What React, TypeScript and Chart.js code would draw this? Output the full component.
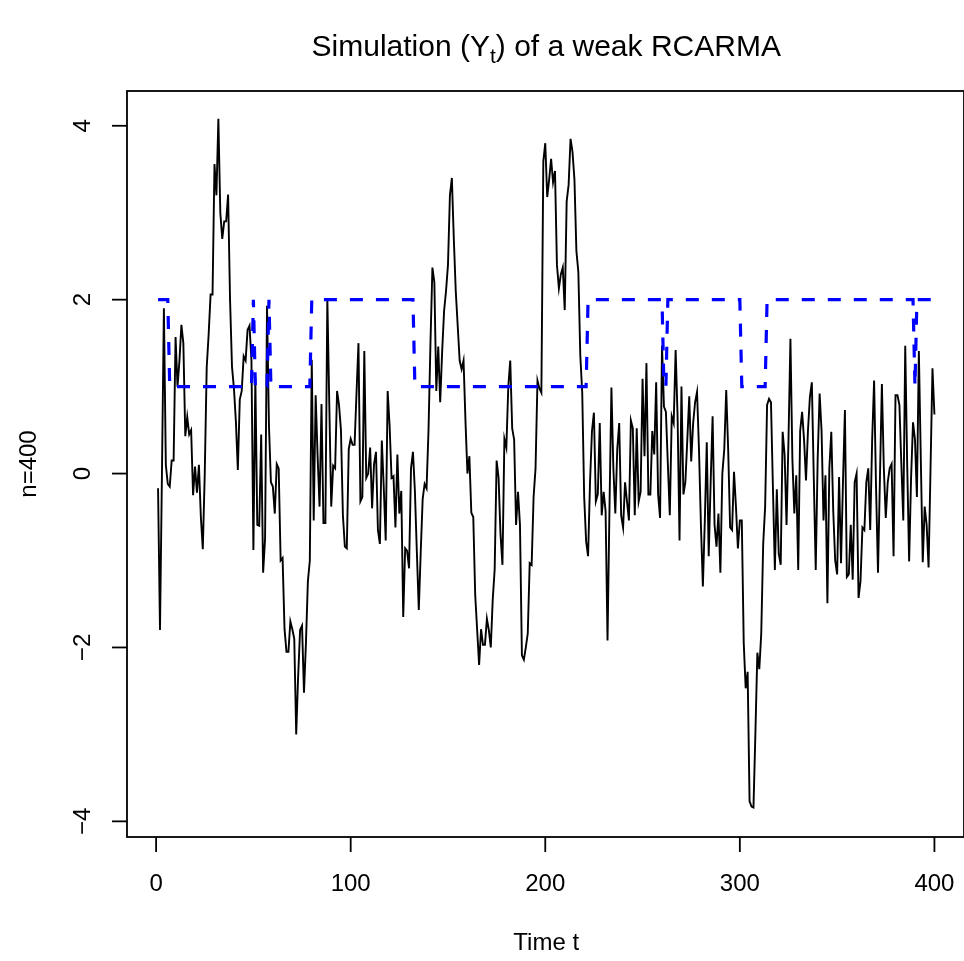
import React, { useEffect, useRef } from "react";
import { Chart, registerables } from "chart.js";

Chart.register(...registerables);

// Simulated series Y_t, t = 1..400
const seriesY: number[] = [
  -0.17, -1.8, 0.0, 1.9, 0.1, -0.12, -0.15, 0.15, 0.15, 1.57,
  1.0, 1.3, 1.71, 1.5, 0.43, 0.65, 0.45, 0.5, -0.25, 0.08,
  -0.22, 0.1, -0.5, -0.87, 0.0, 1.22, 1.6, 2.06, 2.06, 3.56,
  3.2, 4.08, 3.0, 2.7, 2.9, 2.9, 3.21, 2.0, 1.23, 0.98,
  0.6, 0.04, 0.85, 0.95, 1.35, 1.3, 1.65, 1.7, 1.3, -0.88,
  1.1, -0.59, -0.6, 0.45, -1.14, -0.75, 1.93, 0.55, -0.1, -0.15,
  -0.46, 0.11, 0.06, -1.0, -0.97, -1.79, -2.05, -2.05, -1.7, -1.79,
  -1.9, -3.0, -2.33, -1.8, -1.75, -2.52, -1.95, -1.24, -1.0, 1.31,
  -0.54, 0.9, 0.2, -0.38, 0.8, -0.57, -0.57, 2.02, 0.8, -0.38,
  0.09, 0.06, 0.95, 0.79, 0.5, -0.48, -0.84, -0.86, 0.28, 0.4,
  0.33, 0.33, 0.93, 1.5, -0.32, -0.27, 1.41, -0.05, 0.0, 0.3,
  -0.4, 0.11, 0.25, -0.65, -0.81, 0.38, -0.16, -0.77, 0.95, 0.55,
  -0.05, -0.03, -0.62, 0.22, -0.46, -0.2, -1.65, -0.86, -0.89, -1.09,
  0.06, 0.25, -0.2, -0.9, -1.57, -0.9, -0.29, -0.12, -0.17, 0.5,
  1.5, 2.37, 2.2, 0.95, 1.46, 0.82, 1.4, 1.87, 2.1, 2.4,
  3.2, 3.4, 2.7, 2.1, 1.7, 1.3, 1.2, 1.3, 0.6, 0.0,
  0.2, -0.45, -0.5, -1.4, -1.8, -2.2, -1.79, -1.97, -1.97, -1.67,
  -1.8, -2.0, -1.45, -1.1, 0.15, -0.05, -0.7, -1.05, 0.4, 0.3,
  1.0, 1.3, 0.52, 0.39, -0.59, -0.21, -0.59, -2.09, -2.14, -2.0,
  -1.84, -1.03, -1.05, -0.27, 0.06, 1.07, 0.98, 0.93, 3.59, 3.8,
  3.18, 3.38, 3.62, 3.35, 3.48, 2.4, 2.13, 2.29, 2.37, 1.88,
  3.13, 3.32, 3.85, 3.7, 3.38, 2.56, 2.32, 1.36, 0.93, -0.27,
  -0.78, -0.95, -0.1, 0.49, 0.7, -0.32, -0.24, 0.58, -0.48, -0.21,
  -0.43, -1.92, -0.4, 0.99, 0.06, -0.46, 0.28, 0.58, -0.48, -0.62,
  -0.1, -0.32, -0.54, 0.61, 0.52, -0.48, 0.52, -0.32, -0.21, 1.09,
  0.2, 1.27, -0.24, -0.24, 0.49, 0.22, 1.05, -0.24, -0.51, 1.47,
  0.77, 0.71, 0.11, -0.48, 0.66, 0.58, 1.42, 0.66, -0.77, 1.0,
  -0.24, -0.1, 0.39, 0.89, 0.14, 0.58, 0.82, 0.94, 0.28, -0.59,
  -1.3, -0.54, 0.36, -0.95, -0.1, 0.66, -0.59, -0.84, -0.46, -1.14,
  0.0, 0.28, 0.96, 0.28, -0.62, -0.65, 0.02, -0.38, -0.86, -0.54,
  -0.54, -1.95, -2.47, -2.28, -3.77, -3.83, -3.84, -2.98, -2.06, -2.25,
  -1.84, -0.81, -0.38, 0.79, 0.86, 0.82, -0.16, -1.11, -0.18, -0.92,
  -1.05, 0.48, 0.22, -0.59, 0.39, 1.55, 0.17, -0.46, -0.02, -1.11,
  0.49, 0.71, 0.39, -0.08, 0.49, 0.88, 1.05, -0.05, -1.11, 0.17,
  0.92, 0.49, -0.54, -0.02, -1.49, 0.06, 0.48, -0.43, -1.0, -1.16,
  -0.04, -1.03, -0.1, 0.73, -1.19, -1.16, -0.59, -1.22, -0.1, 0.0,
  -1.43, -1.24, -0.62, -0.65, -0.1, 0.06, -0.65, 0.39, 1.07, -0.16,
  -1.14, -0.05, 1.03, 0.06, -0.51, -0.1, 0.06, 0.11, -0.95, 0.9,
  0.9, 0.79, 0.11, -0.54, 1.47, 0.11, -1.01, -0.05, 0.59, 0.39,
  -0.27, 1.41, 0.17, -1.02, -0.38, -0.59, -1.08, 0.06, 1.21, 0.68,
];

// Regime (Markov state) for t = 1..400
const regime: number[] = [
  2, 2, 2, 2, 2, 2, 1, 1, 1, 1,
  1, 1, 1, 1, 1, 1, 1, 1, 1, 1,
  1, 1, 1, 1, 1, 1, 1, 1, 1, 1,
  1, 1, 1, 1, 1, 1, 1, 1, 1, 1,
  1, 1, 1, 1, 1, 1, 1, 1, 1, 2,
  1, 1, 1, 1, 1, 1, 1, 2, 1, 1,
  1, 1, 1, 1, 1, 1, 1, 1, 1, 1,
  1, 1, 1, 1, 1, 1, 1, 1, 1, 2,
  2, 2, 2, 2, 2, 2, 2, 2, 2, 2,
  2, 2, 2, 2, 2, 2, 2, 2, 2, 2,
  2, 2, 2, 2, 2, 2, 2, 2, 2, 2,
  2, 2, 2, 2, 2, 2, 2, 2, 2, 2,
  2, 2, 2, 2, 2, 2, 2, 2, 2, 2,
  2, 2, 1, 1, 1, 1, 1, 1, 1, 1,
  1, 1, 1, 1, 1, 1, 1, 1, 1, 1,
  1, 1, 1, 1, 1, 1, 1, 1, 1, 1,
  1, 1, 1, 1, 1, 1, 1, 1, 1, 1,
  1, 1, 1, 1, 1, 1, 1, 1, 1, 1,
  1, 1, 1, 1, 1, 1, 1, 1, 1, 1,
  1, 1, 1, 1, 1, 1, 1, 1, 1, 1,
  1, 1, 1, 1, 1, 1, 1, 1, 1, 1,
  1, 1, 1, 1, 1, 1, 1, 1, 1, 1,
  1, 2, 2, 2, 2, 2, 2, 2, 2, 2,
  2, 2, 2, 2, 2, 2, 2, 2, 2, 2,
  2, 2, 2, 2, 2, 2, 2, 2, 2, 2,
  2, 2, 2, 2, 2, 2, 2, 2, 2, 2,
  1, 1, 2, 2, 2, 2, 2, 2, 2, 2,
  2, 2, 2, 2, 2, 2, 2, 2, 2, 2,
  2, 2, 2, 2, 2, 2, 2, 2, 2, 2,
  2, 2, 2, 2, 2, 2, 2, 2, 2, 2,
  1, 1, 1, 1, 1, 1, 1, 1, 1, 1,
  1, 1, 1, 2, 2, 2, 2, 2, 2, 2,
  2, 2, 2, 2, 2, 2, 2, 2, 2, 2,
  2, 2, 2, 2, 2, 2, 2, 2, 2, 2,
  2, 2, 2, 2, 2, 2, 2, 2, 2, 2,
  2, 2, 2, 2, 2, 2, 2, 2, 2, 2,
  2, 2, 2, 2, 2, 2, 2, 2, 2, 2,
  2, 2, 2, 2, 2, 2, 2, 2, 2, 2,
  2, 2, 2, 2, 2, 2, 2, 2, 2, 1,
  2, 2, 2, 2, 2, 2, 2, 2, 2, 2,
];

const xTicks: number[] = [0, 100, 200, 300, 400];
const yTicks: number[] = [-4, -2, 0, 2, 4];

const TITLE_MAIN = "Simulation (Y";
const TITLE_SUB = "t";
const TITLE_END = ") of a weak RCARMA";
const X_LABEL = "Time t";
const Y_LABEL = "n=400";

const FONT = '"Liberation Sans", Arial, Helvetica, sans-serif';

const rAxesPlugin = {
  id: "rAxes",
  afterDraw(chart: any) {
    const { ctx, chartArea, scales } = chart;
    const { left, right, top, bottom } = chartArea;
    const xs = scales.x;
    const ys = scales.y;
    ctx.save();
    ctx.strokeStyle = "#000";
    ctx.fillStyle = "#000";
    ctx.lineWidth = 1.8;
    // box
    ctx.strokeRect(left, top, right - left, bottom - top);
    // x ticks
    ctx.font = `24px ${FONT}`;
    ctx.textAlign = "center";
    ctx.textBaseline = "middle";
    for (const v of xTicks) {
      const px = xs.getPixelForValue(v);
      ctx.beginPath();
      ctx.moveTo(px, bottom);
      ctx.lineTo(px, bottom + 15);
      ctx.stroke();
      ctx.fillText(String(v), px, bottom + 47);
    }
    // y ticks
    for (const v of yTicks) {
      const py = ys.getPixelForValue(v);
      ctx.beginPath();
      ctx.moveTo(left, py);
      ctx.lineTo(left - 15, py);
      ctx.stroke();
      ctx.save();
      ctx.translate(left - 44, py);
      ctx.rotate(-Math.PI / 2);
      ctx.fillText(v < 0 ? "\u2212" + String(-v) : String(v), 0, 0);
      ctx.restore();
    }
    // axis titles
    const cx = (xs.getPixelForValue(-14.96) + xs.getPixelForValue(415.96)) / 2;
    const cy = (top + bottom) / 2;
    ctx.fillText(X_LABEL, cx, bottom + 106);
    ctx.save();
    ctx.translate(left - 98, cy);
    ctx.rotate(-Math.PI / 2);
    ctx.fillText(Y_LABEL, 0, 0);
    ctx.restore();
    // main title with subscript
    const fMain = `30px ${FONT}`;
    const fSub = `21px ${FONT}`;
    ctx.font = fMain;
    const w1 = ctx.measureText(TITLE_MAIN).width;
    const w3 = ctx.measureText(TITLE_END).width;
    ctx.font = fSub;
    const w2 = ctx.measureText(TITLE_SUB).width;
    const total = w1 + w2 + w3;
    let x0 = cx - total / 2;
    const base = 56;
    ctx.textAlign = "left";
    ctx.textBaseline = "alphabetic";
    ctx.font = fMain;
    ctx.fillText(TITLE_MAIN, x0, base);
    x0 += w1;
    ctx.font = fSub;
    ctx.fillText(TITLE_SUB, x0, base + 7);
    x0 += w2;
    ctx.font = fMain;
    ctx.fillText(TITLE_END, x0, base);
    ctx.restore();
  },
};

export default function App() {
  const canvasRef = useRef<HTMLCanvasElement | null>(null);

  useEffect(() => {
    const canvas = canvasRef.current;
    if (!canvas) return;
    const yPoints = seriesY.map((v, i) => ({ x: i + 1, y: v }));
    const rPoints = regime.map((v, i) => ({ x: i + 1, y: v }));
    const chart = new Chart(canvas, {
      type: "line",
      data: {
        datasets: [
          {
            label: "regime",
            data: rPoints,
            borderColor: "#0000FF",
            borderWidth: 3.2,
            borderDash: [13, 13],
            pointRadius: 0,
            tension: 0,
            fill: false,
            order: 0,
          },
          {
            label: "Y",
            data: yPoints,
            borderColor: "#000000",
            borderWidth: 1.9,
            pointRadius: 0,
            tension: 0,
            fill: false,
            order: 1,
          },
        ],
      },
      options: {
        animation: false,
        responsive: false,
        devicePixelRatio: 1,
        layout: { padding: { left: 127, top: 91, right: 0, bottom: 124 } },
        plugins: { legend: { display: false }, tooltip: { enabled: false }, title: { display: false } },
        scales: {
          x: { type: "linear", min: -14.96, max: 415.2, display: false },
          y: { type: "linear", min: -4.18, max: 4.4, display: false },
        },
      },
      plugins: [rAxesPlugin],
    });
    return () => chart.destroy();
  }, []);

  return (
    <div style={{ position: "fixed", left: 0, top: 0, width: 964, height: 961, background: "#fff", overflow: "hidden" }}>
      <canvas ref={canvasRef} width={964} height={961} style={{ width: 964, height: 961, display: "block" }} />
    </div>
  );
}
